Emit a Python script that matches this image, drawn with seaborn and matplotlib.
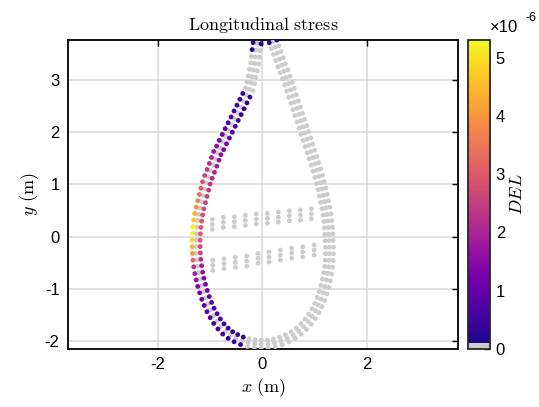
import numpy as np
import pandas as pd
import seaborn as sns
import matplotlib.pyplot as plt
from matplotlib.colors import ListedColormap, Normalize
from matplotlib.cm import ScalarMappable

# mid-wall stations of the shell, counter-clockwise from the top of the left side
shell_x = [-0.101, -0.120, -0.134, -0.145, -0.172, -0.197, -0.222, -0.249,
           -0.305, -0.361, -0.417, -0.473, -0.529, -0.585, -0.641, -0.697, -0.753, -0.806,
           -0.860, -0.900, -0.940, -0.985, -1.030, -1.070, -1.100, -1.130, -1.160, -1.190,
           -1.215, -1.235, -1.250, -1.260,
           -1.265, -1.265, -1.260, -1.250, -1.235, -1.215, -1.190, -1.160, -1.125, -1.085,
           -1.040, -0.990, -0.930, -0.865, -0.790, -0.705, -0.610, -0.505, -0.390,
           -0.270, -0.145, -0.020, 0.105, 0.230, 0.355, 0.475, 0.590, 0.695, 0.790, 0.875,
           0.950, 1.015, 1.070, 1.120, 1.160, 1.195, 1.225, 1.250, 1.268, 1.278, 1.283,
           1.283, 1.278,
           1.272, 1.262, 1.250, 1.235, 1.215, 1.190, 1.165, 1.140, 1.110, 1.077, 1.042,
           1.005, 0.967, 0.929, 0.890, 0.852, 0.813, 0.774, 0.735, 0.696, 0.657, 0.618,
           0.578, 0.538, 0.497, 0.456, 0.414, 0.371, 0.328, 0.285, 0.243, 0.205]
shell_y = [3.703, 3.570, 3.442, 3.314, 3.187, 3.059, 2.944, 2.818,
           2.706, 2.594, 2.482, 2.370, 2.258, 2.146, 2.034, 1.922, 1.810, 1.700,
           1.600, 1.490, 1.375, 1.260, 1.145, 1.030, 0.910, 0.790, 0.670, 0.550,
           0.430, 0.310, 0.185, 0.060,
           -0.065, -0.190, -0.315, -0.440, -0.565, -0.690, -0.810, -0.930, -1.050, -1.170,
           -1.285, -1.400, -1.510, -1.615, -1.715, -1.805, -1.880, -1.940, -1.990,
           -2.025, -2.045, -2.055, -2.050, -2.030, -1.995, -1.945, -1.880, -1.805, -1.720,
           -1.625, -1.525, -1.415, -1.305, -1.190, -1.070, -0.950, -0.825, -0.700, -0.575,
           -0.450, -0.325, -0.200, -0.075,
           0.050, 0.175, 0.300, 0.425, 0.550, 0.672, 0.795, 0.915, 1.035, 1.155, 1.275,
           1.393, 1.512, 1.630, 1.748, 1.866, 1.984, 2.102, 2.220, 2.338, 2.456, 2.574,
           2.692, 2.810, 2.928, 3.046, 3.164, 3.280, 3.396, 3.512, 3.626, 3.735]

# DEL (x1e-6) on the loaded left side, first station = index 8 of the shell
left_first = 8
del_outer = [0.32, 0.37, 0.42, 0.53, 0.64, 0.80, 0.95, 1.17, 1.38, 1.59, 1.80, 2.00,
             2.23, 2.44, 2.65, 2.86, 3.13, 3.39, 3.66, 3.92, 4.24, 4.66, 5.09, 5.30,
             4.88, 4.45, 3.98, 3.20, 2.30, 1.90, 1.62, 1.42, 1.25, 1.10, 0.96, 0.85,
             0.76, 0.67, 0.58, 0.50, 0.43, 0.37, 0.32]
del_inner = [0.32, 0.37, 0.42, 0.48, 0.58, 0.74, 0.90, 1.06, 1.27, 1.43, 1.59, 1.75,
             1.91, 2.07, 2.23, 2.33, 2.44, 2.54, 2.65, 2.76, 2.86, 2.97, 3.02, 3.02,
             2.92, 2.76, 2.54, 2.23, 1.91, 1.70, 1.54, 1.38, 1.22, 1.11, 0.95, 0.85,
             0.74, 0.64, 0.53, 0.48, 0.42, 0.37, 0.32]
del_tip = 0.25   # the few nodes right at the trailing edge

# shear webs: stations along each web and mid-web height
web1_x = [-0.956, -0.745, -0.535, -0.325, -0.115, 0.096, 0.306, 0.516, 0.727, 0.937]
web1_y = [0.237, 0.275, 0.287, 0.314, 0.338, 0.352, 0.377, 0.402, 0.415, 0.440]
web2_x = [-0.948, -0.732, -0.516, -0.298, -0.082, 0.128, 0.344, 0.562, 0.772, 0.989]
web2_y = [-0.547, -0.516, -0.489, -0.465, -0.413, -0.388, -0.350, -0.312, -0.287, -0.254]

shell_gap = 0.0765
web_gap = 0.096

sx = np.array(shell_x)
sy = np.array(shell_y)
tx = np.gradient(sx)
ty = np.gradient(sy)
tn = np.hypot(tx, ty)
nx, ny = ty / tn, -tx / tn   # outward normal for ccw ordering

val_out = np.zeros(len(sx))
val_in = np.zeros(len(sx))
val_out[left_first:left_first + len(del_outer)] = del_outer
val_in[left_first:left_first + len(del_inner)] = del_inner
val_out[0] = val_in[0] = del_tip
val_out[1] = del_tip
val_out[-1] = val_in[-1] = del_tip

rows = []
rows.append(pd.DataFrame({'x': sx + shell_gap * nx, 'y': sy + shell_gap * ny, 'DEL': val_out}))
rows.append(pd.DataFrame({'x': sx, 'y': sy, 'DEL': 0.0}))
rows.append(pd.DataFrame({'x': sx - shell_gap * nx, 'y': sy - shell_gap * ny, 'DEL': val_in}))
for wx, wy in [(web1_x, web1_y), (web2_x, web2_y)]:
    for k in (-1, 0, 1):
        rows.append(pd.DataFrame({'x': wx, 'y': np.array(wy) + k * web_gap, 'DEL': 0.0}))
df = pd.concat(rows, ignore_index=True).sort_values('DEL')

# plasma with the bottom slot greyed out for unloaded nodes
base = plt.get_cmap('plasma')(np.linspace(0, 1, 256))
base[:5] = [0.8, 0.8, 0.8, 1.0]
cmap = ListedColormap(base)
vmax = 5.3

sns.set_style('white')
plt.rcParams['font.family'] = ['Liberation Sans', 'DejaVu Sans']
plt.rcParams['mathtext.fontset'] = 'cm'
plt.rcParams['axes.unicode_minus'] = False
plt.rcParams['text.color'] = 'black'
plt.rcParams['axes.labelcolor'] = 'black'
plt.rcParams['xtick.color'] = 'black'
plt.rcParams['ytick.color'] = 'black'

fig = plt.figure(figsize=(5.39, 4.07), dpi=100)
ax = fig.add_axes([0.126, 0.1425, 0.724, 0.759])
cax = fig.add_axes([0.869, 0.1425, 0.0403, 0.759])

sns.scatterplot(data=df, x='x', y='y', hue='DEL', palette=cmap, hue_norm=(0, vmax),
                s=12, linewidth=0, legend=False, ax=ax, zorder=3)

ax.set_xlim(-3.715, 3.742)
ax.set_ylim(-2.147, 3.761)
ax.set_xticks([-2, 0, 2])
ax.set_yticks([-2, -1, 0, 1, 2, 3])
ax.grid(True, color=(0.85, 0.85, 0.85), lw=1.1)
ax.set_axisbelow(True)
ax.tick_params(direction='in', top=True, right=True, length=4, width=1.0,
               labelsize=12, pad=6, colors='black')
for sp in ax.spines.values():
    sp.set_linewidth(1.3)
    sp.set_color('black')

ax.set_title(r'$\mathrm{Longitudinal\ stress}$', fontsize=13, pad=7, color='black')
ax.set_xlabel(r'$x\ \mathrm{(m)}$', fontsize=13, labelpad=3)
ax.set_ylabel(r'$y\ \mathrm{(m)}$', fontsize=13, labelpad=3)

cb = fig.colorbar(ScalarMappable(norm=Normalize(0, vmax), cmap=cmap), cax=cax)
cb.set_ticks([0, 1, 2, 3, 4, 5])
cax.tick_params(direction='in', length=4, width=1.0, labelsize=12, pad=4, colors='black')
cb.outline.set_linewidth(1.3)
cb.set_label(r'$DEL$', fontsize=13, labelpad=3)

fig.text(490 / 539, 1 - 32 / 407, '×10', fontsize=12)
fig.text(525 / 539, 1 - 21 / 407, '-6', fontsize=9)

fig.savefig('out.png', dpi=100)
